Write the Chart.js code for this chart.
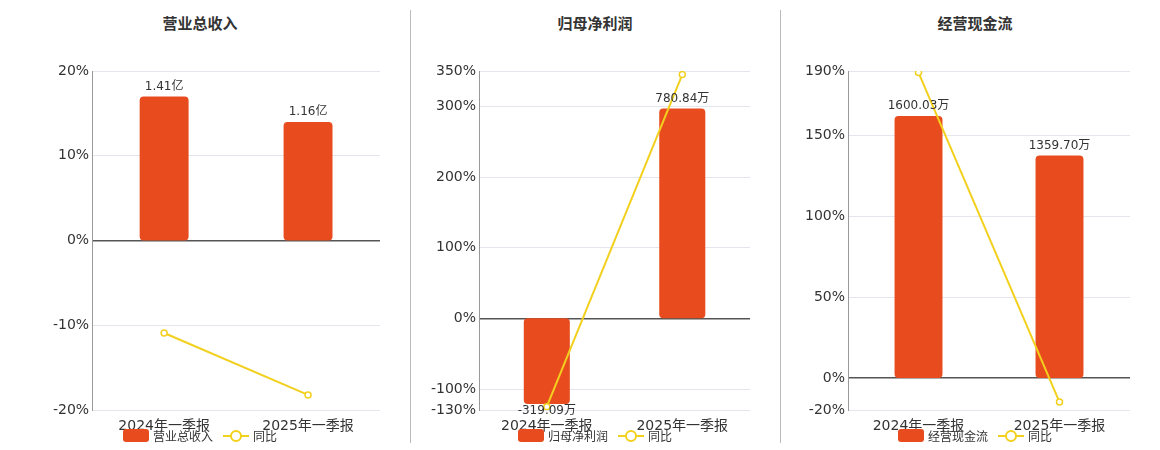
<!DOCTYPE html>
<html><head><meta charset="utf-8">
<script src="https://cdn.jsdelivr.net/npm/chart.js@4/dist/chart.umd.min.js"></script>
<style>
body{margin:0;width:1160px;height:450px;background:#fff;font-family:"DejaVu Sans","Noto Sans CJK SC",sans-serif;position:relative;overflow:hidden}
.p{position:absolute;top:0;height:450px}
.t{position:absolute;top:12px;left:0;right:0;text-align:center;font-size:15px;font-weight:bold;color:#333;font-family:"Noto Sans CJK SC",sans-serif}
.c{position:absolute;top:40px;left:0;right:0;height:395px}
.lg{position:absolute;top:427px;left:0;right:0;text-align:center;font-size:12px;color:#333}
.lg span{display:inline-block;vertical-align:middle}
.bx{width:26px;height:13px;background:#e84c1e;border-radius:3px;margin-right:4px}
.ln{width:26px;height:2px;background:#f2d01e;position:relative;margin:0 4px 0 10px}
.ln:after{content:"";position:absolute;left:7px;top:-5px;width:8px;height:8px;border:2px solid #f2d01e;border-radius:50%;background:#fff}
.sep{position:absolute;top:10px;height:433px;width:1px;background:#bbb}
</style></head><body>
<div class="sep" style="left:410px"></div><div class="sep" style="left:780px"></div>
<script>
const categories=["2024年一季报","2025年一季报"];
const titles=["营业总收入","归母净利润","经营现金流"];
const barValues1=[1.41,1.16], barLabels1=["1.41亿","1.16亿"], yoy1=[-10.9,-18.2];
const barValues2=[-319.09,780.84], barLabels2=["-319.09万","780.84万"], yoy2=[-125,345];
const barValues3=[1600.03,1359.70], barLabels3=["1600.03万","1359.70万"], yoy3=[189,-15];
const ticks1=[-20,-10,0,10,20], ticks2=[-130,-100,0,100,200,300,350], ticks3=[-20,0,50,100,150,190];
const panels=[
 {left:0,width:400,ml:50,mr:20,bars:barValues1,labels:barLabels1,yoy:yoy1,ticks:ticks1,pmin:-20,pmax:20,scale:1.66/20},
 {left:420,width:350,ml:8,mr:20,bars:barValues2,labels:barLabels2,yoy:yoy2,ticks:ticks2,pmin:-130,pmax:350,scale:2.63},
 {left:790,width:370,ml:12,mr:30,bars:barValues3,labels:barLabels3,yoy:yoy3,ticks:ticks3,pmin:-20,pmax:190,scale:9.87}
];
panels.forEach((p,i)=>{
 const d=document.createElement('div');d.className='p';d.style.left=p.left+'px';d.style.width=p.width+'px';
 d.innerHTML=`<div class="t">${titles[i]}</div><div class="c"><canvas></canvas></div><div class="lg"><span class="bx"></span><span>${titles[i]}</span><span class="ln"></span><span>同比</span></div>`;
 document.body.appendChild(d);
 const lab={id:'lab',afterDatasetsDraw(ch){const c=ch.ctx;const m=ch.getDatasetMeta(1);c.save();c.font='12px "DejaVu Sans","Noto Sans CJK SC",sans-serif';c.fillStyle='#333';c.textAlign='center';
  m.data.forEach((b,k)=>{const neg=p.bars[k]<0;c.textBaseline=neg?'top':'bottom';c.fillText(p.labels[k],b.x,neg?b.y+1:b.y-4);});c.restore();}};
 new Chart(d.querySelector('canvas'),{
  data:{labels:categories,datasets:[
   {type:'line',data:p.yoy,yAxisID:'y',borderColor:'#f2d01e',borderWidth:2,pointRadius:3,pointBackgroundColor:'#fff',pointBorderColor:'#f2d01e',pointBorderWidth:1.5,order:0},
   {type:'bar',data:p.bars,yAxisID:'yb',backgroundColor:'#e84c1e',borderRadius:4,borderSkipped:false,barPercentage:0.34,categoryPercentage:1,order:1}
  ]},
  options:{animation:false,responsive:true,maintainAspectRatio:false,layout:{padding:{left:p.ml,right:p.mr,top:31,bottom:0}},
   plugins:{legend:{display:false},tooltip:{enabled:false}},
   scales:{
    x:{grid:{display:false},border:{display:false},ticks:{color:'#333',font:{size:14,family:'"DejaVu Sans","Noto Sans CJK SC",sans-serif'},padding:0}},
    y:{min:p.pmin,max:p.pmax,afterBuildTicks:a=>{a.ticks=p.ticks.map(v=>({value:v}));},
     ticks:{color:'#333',font:{size:14,family:'"DejaVu Sans",sans-serif'},callback:v=>v+'%'},
     grid:{color:c=>c.tick&&c.tick.value===0?'#555':'#e3e6ee',lineWidth:c=>c.tick&&c.tick.value===0?1.5:1,drawTicks:false},border:{color:'#999'}},
    yb:{display:false,min:p.pmin*p.scale,max:p.pmax*p.scale}
   }},
  plugins:[lab]});
});
</script></body></html>
